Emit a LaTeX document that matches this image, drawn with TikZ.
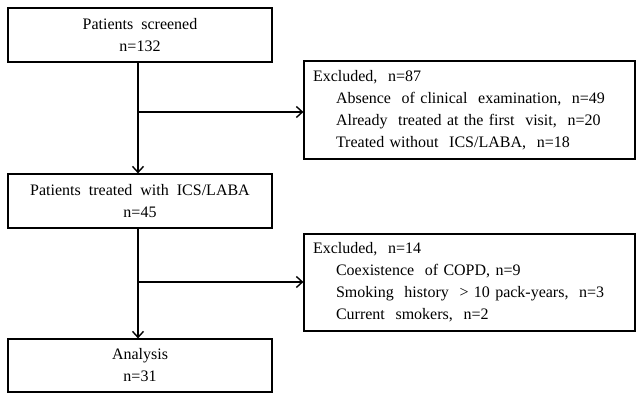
\documentclass[tikz,border=0pt]{standalone}
\usepackage{fontspec}
\setmainfont{Liberation Serif}
\usetikzlibrary{arrows.meta}
\begin{document}
\begin{tikzpicture}[x=1pt,y=-1pt,
  box/.style={draw,line width=1.2pt,inner sep=0pt,font=\fontsize{16}{22}\selectfont},
  mainbox/.style={box,minimum width=264pt,minimum height=54pt,align=center},
  exbox/.style={box,minimum width=331pt,minimum height=98pt,align=left,text width=313pt},
  conn/.style={line width=1.4pt,-{Straight Barb[length=6pt,width=11pt,line width=1.4pt]}}]
\useasboundingbox (0,0) rectangle (640,393);
\node[mainbox] (s) at (140,35) {Patients~ screened\\n=132};
\node[mainbox] (t) at (140,201) {Patients~ treated~ with~ ICS/LABA\\n=45};
\node[mainbox,minimum height=53pt] (a) at (140,365.5) {Analysis\\n=31};
\node[exbox] (e1) at (469.5,110) {Excluded,~ n=87\\
\hspace*{23pt}Absence~ of clinical~ examination,~ n=49\\
\hspace*{23pt}Already~ treated at the first~ visit,~ n=20\\
\hspace*{23pt}Treated without~ ICS/LABA,~ n=18};
\node[exbox,minimum height=97pt] (e2) at (469.5,282.5) {Excluded,~ n=14\\
\hspace*{23pt}Coexistence~ of COPD, n=9\\
\hspace*{23pt}Smoking~ history~ > 10 pack-years,~ n=3\\
\hspace*{23pt}Current~ smokers,~ n=2};
\coordinate (b1) at (138,112);
\coordinate (b2) at (138,282);
\draw[conn] (s.south -| b1) -- (t.north -| b1);
\draw[conn] (b1) -- (b1 -| e1.west);
\draw[conn] (t.south -| b2) -- (a.north -| b2);
\draw[conn] (b2) -- (b2 -| e2.west);
\end{tikzpicture}
\end{document}
